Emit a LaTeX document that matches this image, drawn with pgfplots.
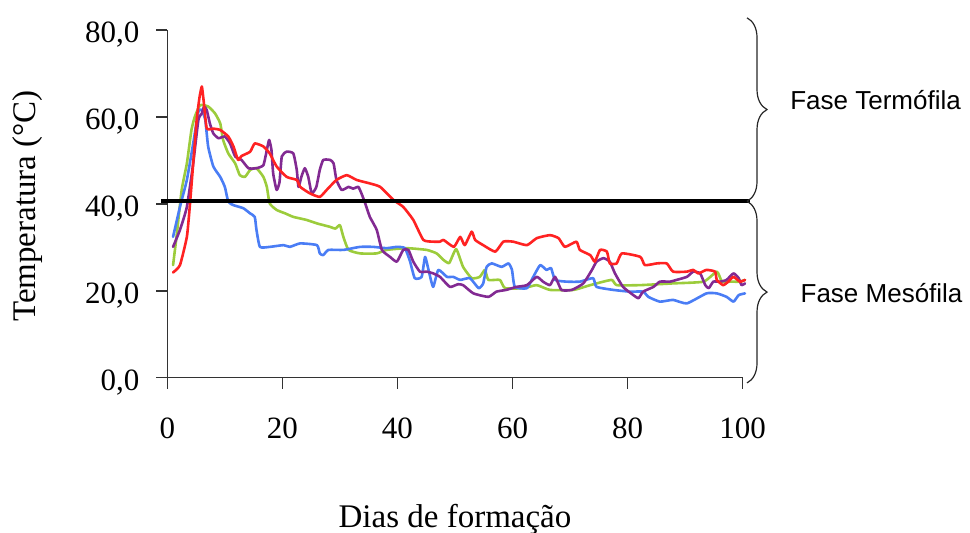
\documentclass[border=0pt]{standalone}
\usepackage{fontspec}
\setmainfont{Liberation Serif}
\newfontfamily\phasefont{Liberation Sans}
\usepackage{pgfplots}
\pgfplotsset{compat=1.18}
\usetikzlibrary{decorations.pathreplacing}

\definecolor{serieRed}{HTML}{FF2222}
\definecolor{serieGreen}{HTML}{9CCC3C}
\definecolor{serieBlue}{HTML}{4A7DF5}
\definecolor{seriePurple}{HTML}{822A92}

\pgfplotstableread{
x y
1.0 24.2
2.2 25.9
3.4 32.4
3.9 39.3
4.5 49.3
5.1 59.3
5.6 64.5
6.0 67.0
6.3 63.9
6.85 57.4
8.0 57.3
9.2 57.0
10.6 55.5
11.5 53.2
12.3 50.1
12.9 51.0
14.4 52.0
15.2 53.9
16.7 53.2
17.8 51.6
19.0 48.6
20.75 46.2
22.5 45.5
23.1 43.9
24.8 42.4
26.5 41.6
27.7 43.2
29.4 45.5
31.2 46.6
32.9 45.5
35.2 44.7
37.0 43.9
39.3 40.9
41.0 39.3
42.75 36.3
44.5 31.7
46.2 31.3
47.4 31.3
48.0 31.7
49.8 30.1
50.9 32.4
51.7 30.5
52.9 33.6
53.5 31.7
54.9 30.5
57.0 29.0
58.4 31.3
60.1 31.3
62.5 30.5
64.2 32.1
66.5 32.8
68.0 32.1
69.1 30.1
71.1 31.3
71.7 29.4
73.5 28.2
74.3 26.7
75.2 29.4
76.4 29.0
76.9 26.3
78.1 26.3
79.0 28.6
82.2 27.8
83.0 25.9
85.1 26.3
86.8 26.3
87.9 24.4
90.3 24.4
91.4 24.8
92.3 24.0
93.7 24.8
95.2 24.4
95.5 22.5
96.6 21.3
97.5 22.1
98.4 23.2
99.5 22.1
100.4 22.5
}\redtable

\pgfplotstableread{
x y
1.0 25.9
1.6 32.4
2.5 43.2
3.4 49.3
4.2 57.0
4.8 60.1
5.7 62.7
7.1 62.4
8.3 60.8
9.2 58.5
9.7 54.7
10.6 51.6
11.8 49.3
12.6 46.6
13.5 46.2
14.4 47.8
15.5 48.2
16.7 46.2
17.3 43.9
17.8 40.1
19.0 38.6
20.5 37.8
21.9 37.0
24.2 36.3
26.0 35.5
28.3 34.7
29.2 34.3
30.0 35.1
30.6 32.4
31.5 29.4
33.5 28.6
36.4 28.6
38.1 29.4
41.6 29.8
45.1 29.4
46.8 28.6
48.0 27.1
49.0 26.4
50.2 29.6
51.4 25.5
52.9 22.9
54.3 23.2
55.2 24.8
55.8 22.5
57.8 22.5
58.7 20.6
61.9 20.6
64.2 21.3
66.5 20.2
70.6 20.2
73.5 21.3
77.2 22.5
78.1 21.3
82.2 21.3
87.9 21.7
93.2 22.1
95.5 24.4
96.4 22.1
97.8 22.1
99.5 22.1
100.4 22.5
}\greentable

\pgfplotstableread{
x y
1.0 32.4
2.2 39.3
3.4 45.5
4.5 53.9
5.4 61.2
6.0 61.6
6.6 59.3
7.1 53.2
8.0 48.6
9.2 46.2
10.0 43.9
10.6 40.5
11.5 39.7
13.2 39.0
14.4 37.8
15.2 37.0
15.5 34.0
16.1 30.1
17.8 30.1
20.2 30.5
21.3 30.1
23.1 30.9
26.0 30.5
26.5 28.6
27.1 28.2
28.0 29.4
30.6 29.4
33.5 30.1
35.8 30.1
38.1 29.8
39.9 30.1
41.3 29.8
42.2 26.7
43.0 22.9
44.2 23.2
44.8 27.8
45.4 24.8
46.2 20.9
47.1 24.8
48.6 23.2
49.7 23.2
50.9 22.5
52.6 22.9
54.1 20.6
54.9 21.7
55.5 25.5
56.4 26.3
58.1 25.5
59.3 26.3
59.9 24.8
60.4 20.9
62.5 20.6
63.6 23.2
64.8 25.9
65.9 24.8
66.7 25.2
67.4 22.5
69.4 22.1
71.7 22.1
74.0 22.9
74.6 20.9
77.5 20.2
80.4 19.8
82.7 19.8
83.6 18.6
85.6 17.5
87.9 17.9
90.3 17.1
93.7 19.4
95.5 19.4
97.2 18.6
98.4 17.5
99.3 19.0
100.4 19.4
}\bluetable

\pgfplotstableread{
x y
1.0 30.1
2.2 34.0
3.4 39.3
4.5 49.3
5.4 59.3
6.0 60.8
6.4 62.4
6.85 61.6
7.4 58.5
8.0 56.2
8.9 55.1
10.0 55.5
10.9 53.9
11.8 50.9
12.9 50.1
14.1 48.2
15.5 48.2
16.7 48.9
17.3 52.4
17.7 54.7
18.1 52.4
18.4 47.0
19.0 43.2
19.5 45.0
19.9 50.9
20.75 52.0
21.9 51.6
22.5 47.8
22.8 43.9
23.3 46.2
23.9 48.2
24.5 46.2
25.1 42.4
25.9 43.9
26.5 47.8
27.1 50.1
28.3 50.1
28.9 49.3
29.4 45.5
30.3 43.2
31.5 43.9
32.3 43.5
33.2 43.9
33.8 42.2
34.4 40.1
35.2 37.0
36.4 34.0
37.3 29.4
38.7 27.8
39.9 26.7
41.0 29.4
41.9 29.4
42.75 26.7
43.9 24.4
45.1 24.4
46.2 24.0
47.4 23.2
49.1 20.9
50.5 21.5
51.4 21.3
53.2 19.4
55.8 18.6
57.2 19.8
58.9 20.2
60.7 20.9
62.5 21.3
64.2 23.2
65.3 22.1
66.5 21.3
67.4 23.2
68.5 20.2
70.3 20.2
72.3 21.7
73.8 24.8
74.6 26.7
75.8 27.5
76.9 26.7
77.8 24.0
79.2 20.9
81.0 19.0
81.9 18.3
82.7 19.8
84.5 20.9
85.6 22.1
87.4 22.1
88.5 22.5
90.3 23.2
91.4 24.4
92.6 24.0
93.5 21.3
94.1 20.6
94.9 22.1
96.1 22.1
97.2 22.5
98.4 24.0
99.3 22.9
99.8 21.3
100.4 21.7
}\purpletable

\begin{document}
\begin{tikzpicture}
\begin{axis}[
  at={(83.65bp,77.65bp)}, anchor=south west,
  width=287.7bp, height=173.85bp, scale only axis,
  xmin=0, xmax=100, ymin=0, ymax=80,
  axis lines*=left,
  axis line style={line width=0.75bp, black!80},
  every tick/.style={line width=0.75bp, black!80},
  tick align=outside, major tick length=5.5bp,
  xtick={0,20,...,100}, ytick={0,20,...,80},
  /pgf/number format/assume math mode=true,
  ticklabel style={font=\fontsize{15.5bp}{18bp}\selectfont},
  xticklabel style={yshift=-11bp},
  yticklabel style={xshift=-5bp, yshift=-2.5bp,
    /pgf/number format/.cd, fixed, fixed zerofill, precision=1, use comma},
  xlabel={Dias de formação},
  ylabel={Temperatura (°C)},
  label style={font=\fontsize{16.5bp}{19bp}\selectfont},
  xlabel style={at={(axis description cs:0.5,0)}, anchor=base, yshift=-74.65bp},
  ylabel style={at={(axis description cs:0,0.494)}, anchor=center, yshift=69.65bp},
  clip=false,
  every axis plot/.append style={line width=1.3bp, line join=round, line cap=round,
    smooth, tension=0.3},
]
\addplot[serieGreen] table {\greentable};
\addplot[serieBlue] table {\bluetable};
\addplot[seriePurple] table {\purpletable};
\addplot[serieRed] table {\redtable};

% boundary between the two phases
\draw[line width=2bp, black] (axis cs:-1.1,40.6) -- (axis cs:101.3,40.6);

% phase braces
\draw[decorate, decoration={brace, amplitude=10bp}, line width=0.6bp, black!85]
  (axis cs:100.75,82.8) -- (axis cs:100.75,40.6);
\draw[decorate, decoration={brace, amplitude=10bp}, line width=0.6bp, black!85]
  (axis cs:100.75,40.6) -- (axis cs:100.75,-1.2);
\node[anchor=base west, inner sep=0pt, font=\phasefont\fontsize{13bp}{15bp}\selectfont]
  at (axis cs:108.2,61.6) {Fase Termófila};
\node[anchor=base west, inner sep=0pt, font=\phasefont\fontsize{13bp}{15bp}\selectfont]
  at (axis cs:110.0,17.4) {Fase Mesófila};
\end{axis}
\pgfresetboundingbox
\useasboundingbox (0,0) rectangle (485bp,266.5bp);
\end{tikzpicture}
\end{document}
